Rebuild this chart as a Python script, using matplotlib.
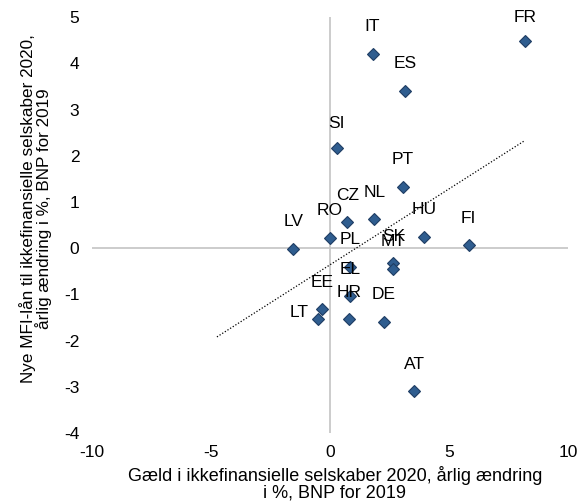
import numpy as np
import matplotlib.pyplot as plt

plt.rcParams['font.family'] = ['Liberation Sans', 'DejaVu Sans']
plt.rcParams['axes.unicode_minus'] = False

# countries and values
countries = ['FR', 'IT', 'ES', 'SI', 'PT', 'NL', 'CZ', 'RO', 'LV', 'HU',
             'FI', 'SK', 'MT', 'PL', 'EL', 'EE', 'LT', 'HR', 'DE', 'AT']
debt_change = [8.19, 1.79, 3.16, 0.28, 3.05, 1.86, 0.73, 0.00, -1.54, 3.95,
               5.83, 2.66, 2.66, 0.84, 0.84, -0.34, -0.50, 0.80, 2.27, 3.53]
loan_change = [4.48, 4.21, 3.40, 2.16, 1.33, 0.62, 0.56, 0.23, -0.01, 0.24,
               0.06, -0.33, -0.45, -0.41, -1.04, -1.32, -1.54, -1.54, -1.60, -3.10]

# label offsets in points (most labels sit above the marker)
label_offsets = {'LT': (-14, 5), 'FR': (0, 17), 'SI': (0, 18)}

x = np.array(debt_change)
y = np.array(loan_change)

fig = plt.figure(figsize=(5.82, 5.04), dpi=100)
ax = fig.add_axes([0.158, 0.141, 0.818, 0.825])

ax.axhline(0, color='#c4c4c4', lw=1.2, zorder=1)
ax.axvline(0, color='#c4c4c4', lw=1.2, zorder=1)

# linear trendline, extended backwards like in Excel
slope, intercept = np.polyfit(x, y, 1)
xt = np.array([-4.75, x.max()])
ax.plot(xt, slope * xt + intercept, color='black', lw=0.9, ls=(0, (1, 1.5)), zorder=2)

ax.plot(x, y, 'D', ms=6.2, mfc='#2f5d8f', mec='#1f3d63', mew=0.8, zorder=3)

for name, xi, yi in zip(countries, x, y):
    dx, dy = label_offsets.get(name, (0, 19.5))
    ax.annotate(name, (xi, yi), xytext=(dx, dy), textcoords='offset points',
                ha='center', va='center', fontsize=12.5, zorder=4)

ax.set_xlim(-10, 10)
ax.set_ylim(-4, 5)
ax.set_xticks([-10, -5, 0, 5, 10])
ax.set_yticks(range(-4, 6))
for s in ax.spines.values():
    s.set_visible(False)
ax.tick_params(length=0, labelsize=12.5, pad=9)

ax.set_xlabel('Gæld i ikkefinansielle selskaber 2020, årlig ændring\ni %, BNP for 2019',
              fontsize=13, linespacing=0.95)
ax.xaxis.set_label_coords(0.51, -0.08)
ax.xaxis.label.set_va('top')
ax.set_ylabel('Nye MFI-lån til ikkefinansielle selskaber 2020,\nårlig ændring i %, BNP for 2019',
              fontsize=12.3, linespacing=0.95)
ax.yaxis.set_label_coords(-0.084, 0.54)

fig.savefig('out.png', dpi=100)
